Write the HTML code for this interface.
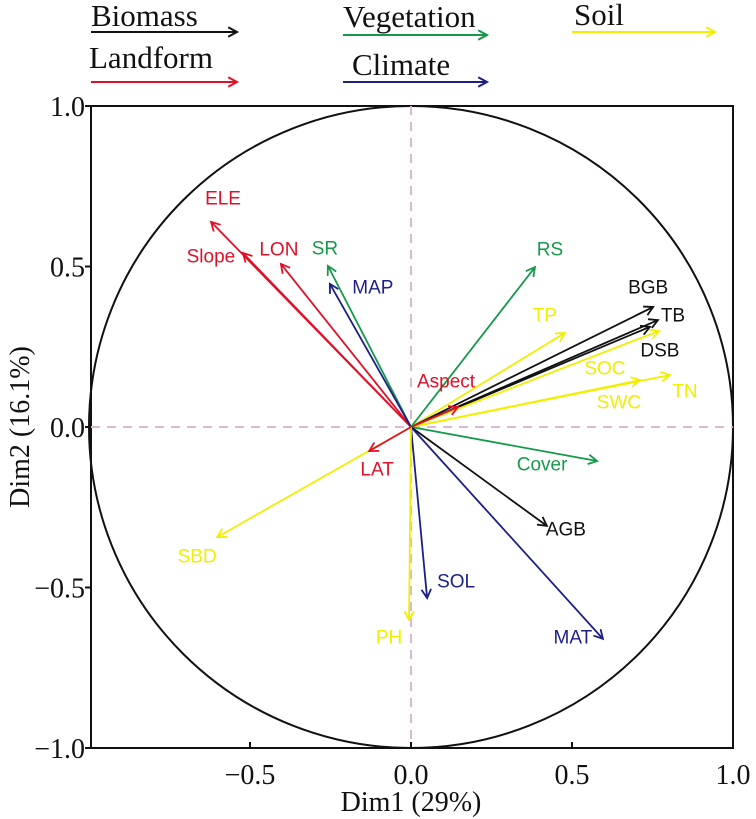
<!DOCTYPE html>
<html><head><meta charset="utf-8"><style>
html,body{margin:0;padding:0;background:#fff}
svg{display:block}
.tick{font-family:"Liberation Serif",serif;font-size:28px;fill:#111}
.lab{font-family:"Liberation Sans",sans-serif;font-size:19px}
.leg{font-family:"Liberation Serif",serif;font-size:31px;fill:#111}
</style></head><body>
<svg id="chart" width="756" height="819" viewBox="0 0 756 819" xmlns="http://www.w3.org/2000/svg">
<g id="legend"></g>
<rect x="91" y="106" width="642" height="642" fill="none" stroke="#111" stroke-width="2"/>
<g id="grid"></g>
<g id="arrows"></g>
<g id="axes"></g>
<text class="tick" x="411" y="811" text-anchor="middle">Dim1 (29%)</text>
<text class="tick" x="0" y="0" text-anchor="middle" transform="translate(29,427) rotate(-90)">Dim2 (16.1%)</text>
</svg>
<script>
const varNames = ["ELE","Slope","LON","SR","MAP","RS","TP","BGB","TB","DSB","SOC","TN","SWC","Aspect","Cover","AGB","MAT","SOL","PH","SBD","LAT"];
const dim1 = [-0.621,-0.522,-0.404,-0.258,-0.252,0.385,0.478,0.752,0.767,0.742,0.770,0.804,0.711,0.146,0.578,0.422,0.596,0.050,-0.006,-0.602,-0.130];
const dim2 = [0.639,0.542,0.508,0.502,0.446,0.498,0.293,0.374,0.333,0.312,0.299,0.162,0.146,0.062,-0.106,-0.308,-0.660,-0.533,-0.601,-0.343,-0.075];
const groups = ["Landform","Landform","Landform","Vegetation","Climate","Vegetation","Soil","Biomass","Biomass","Biomass","Soil","Soil","Soil","Landform","Vegetation","Biomass","Climate","Climate","Soil","Soil","Landform"];
const labelDX = [12,-32,-2,-3,43,15,-20,-5,15,10,-54,15,-21,-12,-55,19,-30,29,-20,-20,8];
const labelDY = [-23,4,-14,-17,4,-17,-17,-19,-4,24,38,17,23,-25,4,4,-1,-16,18,20,19];
const xTicks = [-0.5,0.0,0.5,1.0];
const xTickLabels = ["\u22120.5","0.0","0.5","1.0"];
const yTicks = [1.0,0.5,0.0,-0.5,-1.0];
const yTickLabels = ["1.0","0.5","0.0","\u22120.5","\u22121.0"];
const legendNames = ["Biomass","Vegetation","Soil","Landform","Climate"];

const colors = {Biomass:"#111111",Vegetation:"#16994a",Soil:"#f2ee00",Landform:"#e01028",Climate:"#1c1f86"};
const X0=411, Y0=427, SX=322, SY=321;
const sx = v => X0 + v*SX;
const sy = v => Y0 - v*SY;
const NS="http://www.w3.org/2000/svg";
function mk(tag, attrs, parent){const e=document.createElementNS(NS,tag);for(const k in attrs)e.setAttribute(k,attrs[k]);parent.appendChild(e);return e;}
function arrow(parent,x1,y1,x2,y2,col,w){
  const g=mk("g",{},parent);
  mk("line",{x1:x1,y1:y1,x2:x2,y2:y2,stroke:col,"stroke-width":w},g);
  const a=Math.atan2(y2-y1,x2-x1), L=10, s=0.5;
  const p=`${x2-L*Math.cos(a-s)},${y2-L*Math.sin(a-s)} ${x2},${y2} ${x2-L*Math.cos(a+s)},${y2-L*Math.sin(a+s)}`;
  mk("polyline",{points:p,fill:"none",stroke:col,"stroke-width":w},g);
  return g;
}
const grid=document.getElementById("grid");
const circ=mk("ellipse",{cx:sx(0),cy:sy(0),rx:SX,ry:SY,fill:"none",stroke:"#111","stroke-width":2},grid);


const hz=mk("line",{x1:91,y1:sy(0),x2:733,y2:sy(0),stroke:"#d9b9d6","stroke-width":2,"stroke-dasharray":"9,7"},grid);


const vt=mk("line",{x1:sx(0),y1:106,x2:sx(0),y2:748,stroke:"#d9b9d6","stroke-width":2,"stroke-dasharray":"9,7"},grid);



const axes=document.getElementById("axes");
xTicks.forEach((t,i)=>{
  const tk=mk("line",{x1:sx(t),y1:748,x2:sx(t),y2:742,stroke:"#111","stroke-width":2},axes);
  
  
  const tl=mk("text",{x:sx(t),y:784,"text-anchor":"middle",class:"tick"},axes);
  tl.textContent=xTickLabels[i];
  
  
});
yTicks.forEach((t,i)=>{
  const tk=mk("line",{x1:91,y1:sy(t),x2:85,y2:sy(t),stroke:"#111","stroke-width":2},axes);
  
  
  const tl=mk("text",{x:85,y:sy(t)+10,"text-anchor":"end",class:"tick"},axes);
  tl.textContent=yTickLabels[i];
  
  
});

const arrows=document.getElementById("arrows");
varNames.forEach((n,i)=>{
  const col=colors[groups[i]];
  const g=arrow(arrows,sx(0),sy(0),sx(dim1[i]),sy(dim2[i]),col,1.8);
  
  
  const t=mk("text",{x:sx(dim1[i])+labelDX[i],y:sy(dim2[i])+labelDY[i],"text-anchor":"middle","dominant-baseline":"central",class:"lab",fill:col},arrows);
  t.textContent=n;
  
  
});

const legend=document.getElementById("legend");
const legX=[91,343,572,91,343], legTY=[26,27,25,68,75], legAY=[32,35,32,82,82], legW=[146,144,143,146,144], legTX=[91,343,574,89,352];
legendNames.forEach((n,i)=>{
  const g=mk("g",{},legend);
  
  
  const t=mk("text",{x:legTX[i],y:legTY[i],class:"leg"},g);
  t.textContent=n;
  arrow(g,legX[i],legAY[i],legX[i]+legW[i],legAY[i],colors[n],2);
});
</script>
</body></html>
